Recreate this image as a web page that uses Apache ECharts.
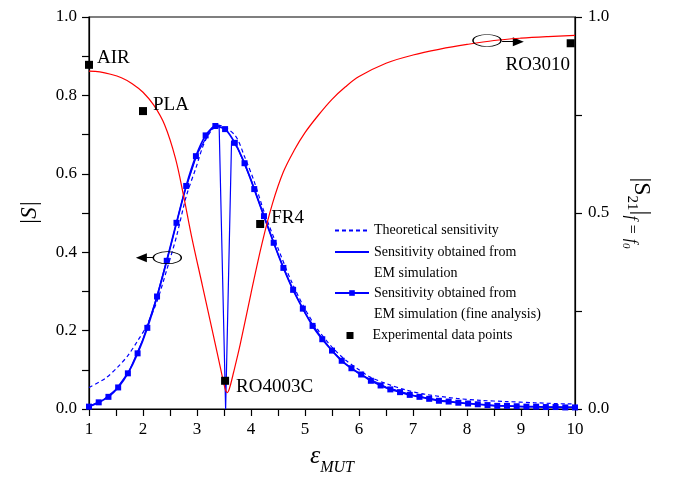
<!DOCTYPE html>
<html><head><meta charset="utf-8">
<script src="https://cdn.jsdelivr.net/npm/echarts@6/dist/echarts.min.js"></script>
<style>html,body{margin:0;padding:0;background:#fff}#c{width:673px;height:485px}</style>
</head><body><div id="c"></div>
<script>
// ---------- DATA ----------
const theoryEps = [1.0,1.3,1.54,1.73,1.91,2.06,2.26,2.44,2.62,2.8,2.98,3.16,3.39,3.7,3.88,4.06,4.25,4.5,4.75,5.0,5.25,5.5,5.75,6.0,6.2,6.5,6.88,7.25,7.81,8.25,8.73,9.25,9.9,10.0];
const theoryS   = [0.055,0.078,0.108,0.138,0.176,0.21,0.275,0.355,0.44,0.542,0.615,0.686,0.724,0.699,0.644,0.58,0.5,0.41,0.325,0.255,0.2,0.158,0.125,0.1,0.082,0.065,0.048,0.037,0.027,0.022,0.019,0.016,0.013,0.013];

const emEps = [1.0,1.25,1.5,1.75,2.0,2.25,2.5,2.75,3.0,3.25,3.41,3.53,3.64,3.75,4.0,4.25,4.5,4.75,5.0,5.25,5.5,5.75,6.0,6.5,7.0,7.5,8.0,8.5,9.0,9.5,10.0];
const emS   = [0.006,0.022,0.05,0.098,0.178,0.283,0.41,0.545,0.65,0.712,0.722,0.0,0.684,0.667,0.585,0.488,0.395,0.312,0.245,0.193,0.149,0.115,0.09,0.056,0.035,0.022,0.014,0.009,0.006,0.005,0.005];

const fineEps = [1.00,1.18,1.36,1.54,1.72,1.90,2.08,2.26,2.44,2.62,2.80,2.98,3.16,3.34,3.52,3.70,3.88,4.06,4.24,4.42,4.60,4.78,4.96,5.14,5.32,5.50,5.68,5.86,6.04,6.22,6.40,6.58,6.76,6.94,7.12,7.30,7.48,7.66,7.84,8.02,8.20,8.38,8.56,8.74,8.92,9.10,9.28,9.46,9.64,9.82,10.00];
const fineS   = [0.006,0.017,0.031,0.055,0.091,0.142,0.207,0.287,0.378,0.475,0.569,0.645,0.698,0.722,0.714,0.679,0.627,0.561,0.492,0.424,0.360,0.304,0.256,0.212,0.178,0.149,0.123,0.104,0.088,0.072,0.060,0.050,0.043,0.036,0.031,0.026,0.021,0.019,0.016,0.014,0.012,0.010,0.008,0.008,0.007,0.006,0.006,0.005,0.005,0.004,0.004];

const s21Eps  = [1.0,1.2,1.4,1.6,1.8,2.0,2.2,2.4,2.6,2.75,2.9,3.1,3.3,3.45,3.52,3.56,3.6,3.68,3.8,4.0,4.2,4.4,4.6,4.8,5.0,5.25,5.5,5.75,6.0,6.5,7.0,7.5,8.0,8.5,9.0,9.5,10.0];
const s21Vals = [0.862,0.860,0.854,0.845,0.830,0.808,0.775,0.725,0.640,0.545,0.440,0.315,0.190,0.095,0.052,0.042,0.052,0.095,0.165,0.295,0.420,0.525,0.605,0.660,0.705,0.750,0.790,0.822,0.848,0.882,0.903,0.918,0.930,0.940,0.946,0.950,0.953];

const expNames = ['AIR','PLA','RO4003C','FR4','RO3010'];
const expEps   = [1.0,2.0,3.52,4.17,9.92];
const expS21   = [0.878,0.760,0.072,0.472,0.933];

const leftMarker  = [2.45,0.386];
const leftArrow   = [[2.19,0.386],[1.97,0.386]];
const rightMarker = [8.37,0.940];
const rightArrow  = [[8.65,0.937],[8.95,0.937]];

const seriesNames = ['Theoretical sensitivity','Sensitivity obtained from\nEM simulation','Sensitivity obtained from\nEM simulation (fine analysis)','Experimental data points'];

// ---------- CHART ----------
const zip = (a,b)=>a.map((v,i)=>[v,b[i]]);
const FONT = 'Liberation Serif';
const BLUE = '#0000ff', RED = '#ff0000', INK = '#000';

const expLabelCfg = [
  {position:'right', distance:4, offset:[0,-7]},
  {position:'right', distance:6, offset:[0,-6]},
  {position:'right', distance:7, offset:[0,6]},
  {position:'right', distance:7, offset:[0,-6]},
  {position:'bottom', distance:8, offset:[-33,0]}
];

const axisCommon = {
  axisLine:{show:true, lineStyle:{color:INK, width:1.2}},
  axisTick:{show:true, length:7, lineStyle:{color:INK, width:1.2}},
  splitLine:{show:false},
  axisLabel:{fontFamily:FONT, fontSize:17, color:INK}
};

const legendText = {fontFamily:FONT, fontSize:14, lineHeight:21, color:INK};
const legendBase = {orient:'vertical', left:334, padding:0, itemGap:0, itemWidth:34, itemHeight:7, textStyle:legendText};
const twoLine = name => '\u00a0\n' + name;

const option = {
  animation:false,
  backgroundColor:'#fff',
  grid:{left:89, right:98, top:17, bottom:76, show:true, borderColor:INK, borderWidth:1.2, backgroundColor:'rgba(0,0,0,0)'},
  xAxis:{type:'value', min:1, max:10, interval:0.5,
    name:'{e|ε}{s|MUT}', nameLocation:'middle', nameGap:30,
    nameTextStyle:{rich:{
      e:{fontFamily:FONT, fontStyle:'italic', fontSize:26, lineHeight:26, verticalAlign:'top', color:INK},
      s:{fontFamily:FONT, fontStyle:'italic', fontSize:16, lineHeight:16, padding:[17,0,0,0], verticalAlign:'top', color:INK}
    }},
    ...axisCommon,
    axisLabel:{...axisCommon.axisLabel, margin:12,
      formatter:v=>Math.abs(v-Math.round(v))<1e-6?String(Math.round(v)):''}
  },
  yAxis:[
    {type:'value', min:0, max:1, interval:0.1, position:'left',
      name:'|S|', nameLocation:'middle', nameGap:48, nameRotate:90,
      nameTextStyle:{fontFamily:FONT, fontStyle:'italic', fontSize:23, color:INK},
      ...axisCommon,
      axisLabel:{...axisCommon.axisLabel, margin:12,
        formatter:v=>Math.round(v*10)%2===0?v.toFixed(1):''}
    },
    {type:'value', min:0, max:1, interval:0.25, position:'right',
      name:'{a||S}{b|21}{a||}{c|f = f}{d|0}', nameLocation:'middle', nameGap:50, nameRotate:-90,
      nameTextStyle:{rich:{
        a:{fontFamily:FONT, fontSize:24, lineHeight:26, verticalAlign:'top', color:INK},
        b:{fontFamily:FONT, fontSize:15, lineHeight:15, padding:[14,0,0,0], verticalAlign:'top', color:INK},
        c:{fontFamily:FONT, fontStyle:'italic', fontSize:16, lineHeight:16, padding:[14,0,0,0], verticalAlign:'top', color:INK},
        d:{fontFamily:FONT, fontStyle:'italic', fontSize:11, lineHeight:11, padding:[22,0,0,0], verticalAlign:'top', color:INK}
      }},
      ...axisCommon,
      axisLabel:{...axisCommon.axisLabel, margin:13,
        formatter:v=>Math.round(v*4)%2===0?v.toFixed(1):''}
    }
  ],
  legend:[
    {...legendBase, top:220, data:[{name:seriesNames[0], itemStyle:{opacity:0}}]},
    {...legendBase, top:220.5, formatter:twoLine, data:[{name:seriesNames[1], itemStyle:{opacity:0}}]},
    {...legendBase, top:261.5, formatter:twoLine, data:[{name:seriesNames[2]}]},
    {...legendBase, top:325, left:346.5, itemWidth:7, itemHeight:7, icon:'rect',
      textStyle:{...legendText, padding:[0,0,0,14]}, data:[{name:seriesNames[3]}]}
  ],
  series:[
    {name:seriesNames[0], type:'line', yAxisIndex:0, data:zip(theoryEps,theoryS), symbol:'none', smooth:0.3,
      lineStyle:{color:BLUE, width:1.2, type:[4,3]}, itemStyle:{color:BLUE}, z:3},
    {name:seriesNames[1], type:'line', yAxisIndex:0, data:zip(emEps,emS), symbol:'none', smooth:false,
      lineStyle:{color:BLUE, width:1.2}, itemStyle:{color:BLUE}, z:3},
    {name:seriesNames[2], type:'line', yAxisIndex:0, data:zip(fineEps,fineS), symbol:'rect', symbolSize:6, showAllSymbol:true, smooth:0.2,
      lineStyle:{color:BLUE, width:1.8}, itemStyle:{color:BLUE}, z:4},
    {name:'S21', type:'line', yAxisIndex:1, data:zip(s21Eps,s21Vals), symbol:'none', smooth:0.35,
      lineStyle:{color:RED, width:1.2}, itemStyle:{color:RED}, z:5},
    {name:seriesNames[3], type:'scatter', yAxisIndex:1, symbol:'rect', symbolSize:8,
      itemStyle:{color:INK, opacity:1}, z:6,
      data:expEps.map((e,i)=>({value:[e,expS21[i]], name:expNames[i],
        label:{show:true, formatter:expNames[i], fontFamily:FONT, fontSize:19, color:INK, ...expLabelCfg[i]}}))},
    {name:'annotL', type:'scatter', yAxisIndex:0, symbol:'circle', symbolSize:[28,12], silent:true,
      itemStyle:{color:'rgba(0,0,0,0)', borderColor:INK, borderWidth:1, opacity:1}, z:7,
      data:[leftMarker],
      markLine:{silent:true, symbol:['none','triangle'], symbolSize:[9,11], animation:false,
        lineStyle:{color:INK, width:1, type:'solid'}, label:{show:false},
        data:[[{coord:leftArrow[0]},{coord:leftArrow[1]}]]}},
    {name:'annotR', type:'scatter', yAxisIndex:1, symbol:'circle', symbolSize:[28,12], silent:true,
      itemStyle:{color:'rgba(0,0,0,0)', borderColor:INK, borderWidth:1, opacity:1}, z:7,
      data:[rightMarker],
      markLine:{silent:true, symbol:['none','triangle'], symbolSize:[9,11], animation:false,
        lineStyle:{color:INK, width:1, type:'solid'}, label:{show:false},
        data:[[{coord:rightArrow[0]},{coord:rightArrow[1]}]]}}
  ]
};
echarts.init(document.getElementById('c'), null, {renderer:'canvas'}).setOption(option);
</script>
</body></html>
